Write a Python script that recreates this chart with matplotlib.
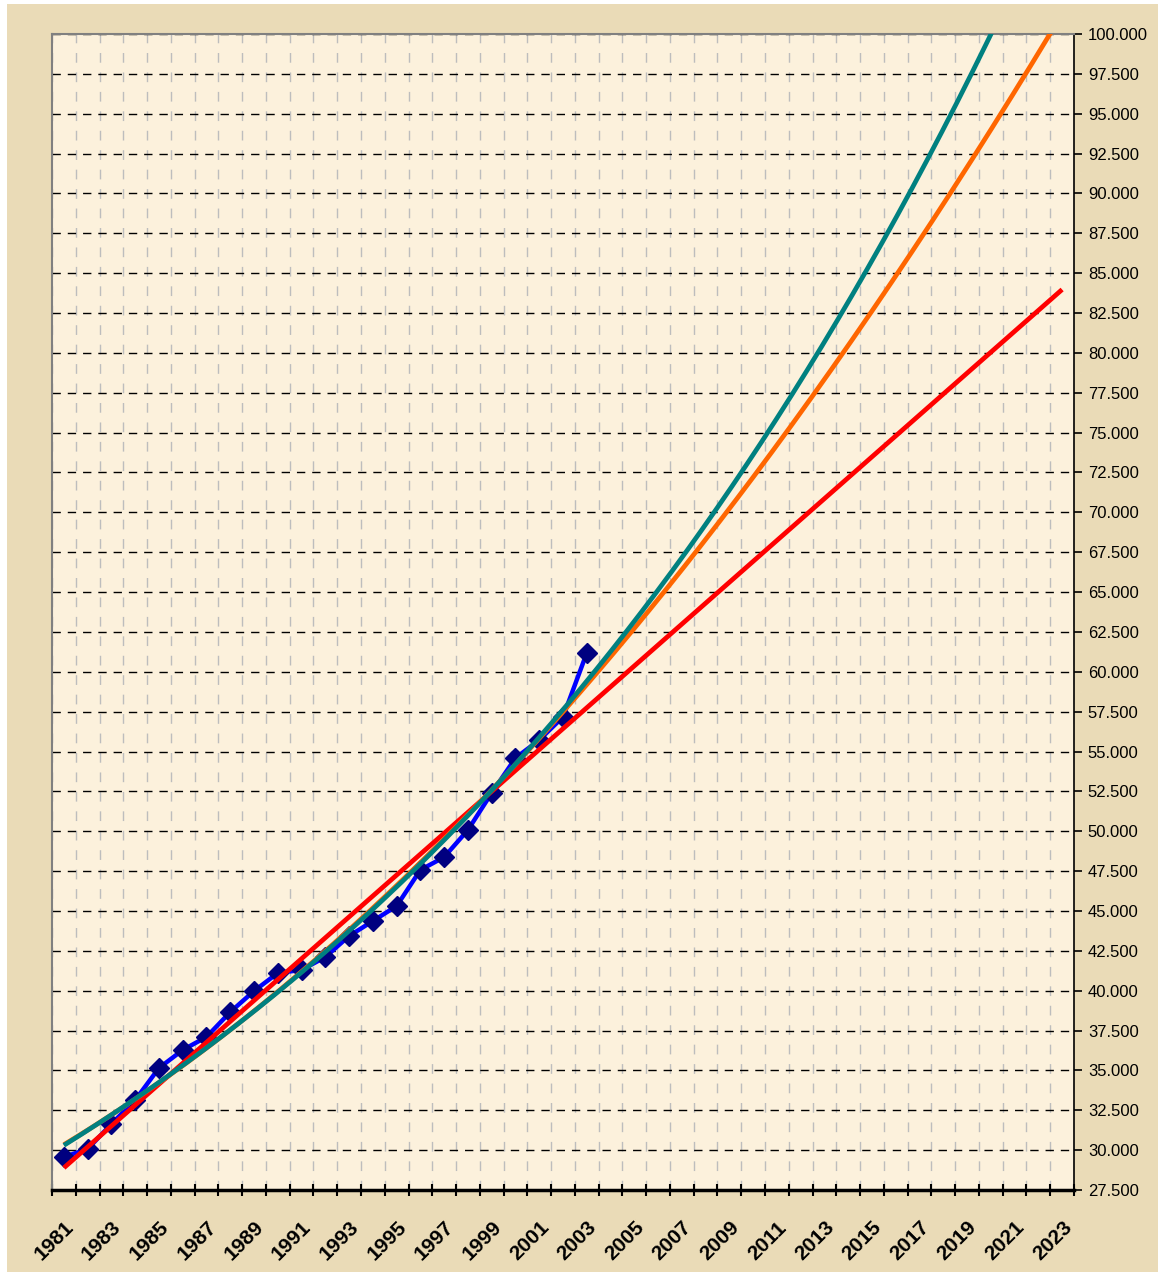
import numpy as np
import matplotlib
matplotlib.use('Agg')
import matplotlib.pyplot as plt
from matplotlib.patches import Rectangle

# years on the category axis
years = list(range(1981, 2024))

# observed values (1981-2003)
obs_years = list(range(1981, 2004))
obs_values = [29.57, 30.07, 31.64, 33.14, 35.15, 36.28, 37.10, 38.66, 39.98, 41.11,
              41.30, 42.11, 43.43, 44.37, 45.31, 47.57, 48.38, 50.08, 52.40, 54.59,
              55.72, 57.17, 61.18]

y_ticks = [27.5 + 2.5 * i for i in range(30)]

plt.rcParams['font.family'] = ['Liberation Sans', 'DejaVu Sans']

fig = plt.figure(figsize=(11.58, 12.72), dpi=100)
fig.patch.set_facecolor('white')
# parchment backdrop
fig.patches.append(Rectangle((7 / 1158, 0), 1 - 7 / 1158, 1 - 4 / 1272,
                             transform=fig.transFigure, facecolor='#eadbb7',
                             edgecolor='none', zorder=-10))

ax = fig.add_axes([52 / 1158, 1 - 1190 / 1272, (1074 - 52) / 1158, (1190 - 34) / 1272])
ax.set_facecolor('#fcf1dc')

x_obs = np.array([years.index(y) for y in obs_years], dtype=float)
y_obs = np.array(obs_values)
x_all = np.linspace(0, len(years) - 1, 400)

# trendlines fitted on the observed series (Excel style, t = 1..n)
t_obs = x_obs + 1
t_all = x_all + 1
lin = np.polyfit(t_obs, y_obs, 1)
poly = np.polyfit(t_obs, y_obs, 2)
expo = np.polyfit(t_obs, np.log(y_obs), 1)

ax.plot(x_obs, y_obs, color='#0000ff', lw=3.2, marker='D', markersize=10,
        markerfacecolor='#000080', markeredgecolor='#000080', zorder=3)
ax.plot(x_all, np.polyval(lin, t_all), color='#ff0000', lw=3.4, zorder=4,
        solid_capstyle='butt')
ax.plot(x_all, np.polyval(poly, t_all), color='#ff6600', lw=3.4, zorder=5,
        solid_capstyle='butt')
ax.plot(x_all, np.exp(np.polyval(expo, t_all)), color='#008080', lw=3.4, zorder=6,
        solid_capstyle='butt')

ax.set_xlim(-0.5, len(years) - 0.5)
ax.set_ylim(27.5, 100)

# category axis: ticks at boundaries, labels every second year
ax.set_xticks(np.arange(-0.5, len(years), 1.0), minor=True)
ax.set_xticks(range(0, len(years), 2))
ax.set_xticklabels([str(y) for y in years[::2]], rotation=45, ha='right',
                   rotation_mode='anchor', fontsize=15, fontweight='bold')
ax.tick_params(axis='x', which='major', length=0, pad=20)
ax.tick_params(axis='x', which='minor', length=9, width=1.5, direction='inout',
               color='black')
ax.grid(True, axis='x', which='minor', color='#bdbdbd', lw=1.0, ls=(0, (7, 7)))

ax.yaxis.tick_right()
ax.set_yticks(y_ticks)
ax.set_yticklabels([f'{v:.3f}' for v in y_ticks], fontsize=12)
ax.tick_params(axis='y', length=6, width=1.2, direction='out', color='black', pad=4)
ax.grid(True, axis='y', which='major', color='black', lw=1.0, ls=(0, (6, 5)))

for side in ['left', 'top']:
    ax.spines[side].set_color('#808080')
    ax.spines[side].set_linewidth(1.5)
ax.spines['right'].set_color('black')
ax.spines['right'].set_linewidth(1.2)
ax.spines['bottom'].set_color('black')
ax.spines['bottom'].set_linewidth(2.5)

fig.savefig('out.png', dpi=100, facecolor=fig.get_facecolor())
